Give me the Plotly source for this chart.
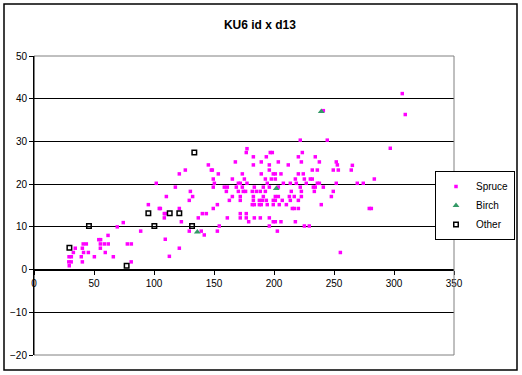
import plotly.graph_objects as go

# ---- data ----
spruce_x = [
    74.4, 69.4, 61.7, 54, 55.5, 41, 43.6, 55.3, 58.6, 61.9, 77.8, 81.1, 34.4, 40.3, 55.3,
    32.8, 41.3, 45.3, 59.4, 29.2, 31.1, 39.4, 50.3, 66.1, 29, 31, 40.3, 81, 29.4,
    177.5, 176.9, 167.8, 145.3, 147.8, 148.6, 126.1, 121.1, 153.6, 173.6, 149.4, 165.3, 175.3,
    101.9, 150.3, 170.3, 171.9, 177.5, 117.8, 149.4, 158.6, 161.1, 168.6, 173.6, 130.3, 160.3,
    170.3, 174.4, 176.3, 110.3, 132.2, 165.3, 171.9, 129.4, 162.8, 171.9, 95.3, 152.8, 149.4,
    104.4, 105.3, 121.1, 108.6, 109.4, 140.3, 143.6, 171.9, 176.9, 108.6, 136.9, 161.1, 171.9,
    176.9, 122.8, 178.9, 154.4, 88.9, 129.4, 139.4, 152.8, 141.9, 109.4, 121.1, 112.8,
    221.9, 244.4, 196.9, 198.6, 223.6, 182.8, 193.6, 220.3, 234.4, 189.4, 203.6, 222.8, 237.8,
    251.9, 182.8, 196.1, 211.9, 252.8, 196.1, 231.9, 236.1, 249.4, 253.6, 189.4, 199.4, 201.1,
    205.8, 220.3, 224.4, 192.8, 197.8, 201.1, 217.8, 225.3, 230.3, 231.9, 194.4, 207.8, 213.6,
    218.6, 226.9, 236.1, 237.8, 251.9, 183.6, 191.1, 196.1, 203.6, 221.9, 232.8, 234.4, 241.1,
    181.9, 185.3, 188.6, 192.8, 214.4, 222.8, 233.6, 249.4, 182.8, 191.1, 201.1, 203.6, 212.8,
    216.9, 222.8, 247.8, 182.8, 187.8, 190.3, 193.6, 199.4, 201.1, 206.9, 213.6, 220.3, 181.9,
    183.6, 187.8, 189.4, 194.4, 199.4, 204.4, 210.3, 239.4, 215.3, 216.9, 220.3, 183.6, 188.6,
    196.1, 199.4, 201.1, 205.8, 217.8, 196.1, 225.3, 229.4, 202.8, 255.3,
    306.9, 309.4, 296.9, 265.3, 264.4, 283.6, 269.4, 274.4, 279.4, 281.1, 241.1,
]
spruce_y = [
    11, 10, 8, 7, 7, 6, 6, 6, 6, 6, 6, 6, 5, 5, 5,
    4, 4, 4, 4, 3, 3, 3, 3, 3, 1.8, 1.8, 1.8, 1.8, 0.9,
    28.3, 27.4, 25.2, 24.5, 23.3, 23.3, 23.3, 22.4, 22.4, 22.4, 21.2, 21.2, 21.2,
    20.2, 20.2, 20.2, 20.2, 20.2, 19.3, 19.3, 19.3, 19.3, 19.3, 19.3, 18.3, 18.3,
    18.3, 18.3, 18.3, 17.1, 17.1, 17.1, 17.1, 16.2, 16.2, 16.2, 15.2, 15.2, 14.3,
    14.3, 14.3, 14.3, 13.1, 13.1, 13.1, 13.1, 13.1, 13.1, 12.1, 12.1, 12.1, 12.1,
    12.1, 11.2, 11.2, 10.2, 9.0, 9.0, 9.0, 9.0, 8.1, 7.1, 5.0, 3.1,
    30.3, 30.3, 27.4, 27.4, 27.4, 26.4, 26.4, 26.4, 26.4, 25.2, 25.2, 25.2, 25.2,
    25.2, 24.5, 24.5, 24.5, 24.5, 23.3, 23.3, 23.3, 23.3, 23.3, 22.4, 22.4, 22.4,
    22.4, 22.4, 22.4, 21.2, 21.2, 21.2, 21.2, 21.2, 21.2, 21.2, 20.2, 20.2, 20.2,
    20.2, 20.2, 20.2, 20.2, 20.2, 19.3, 19.3, 19.3, 19.3, 19.3, 19.3, 19.3, 19.3,
    18.3, 18.3, 18.3, 18.3, 18.3, 18.3, 18.3, 18.3, 17.1, 17.1, 17.1, 17.1, 17.1,
    17.1, 17.1, 17.1, 16.2, 16.2, 16.2, 16.2, 16.2, 16.2, 16.2, 16.2, 16.2, 15.2,
    15.2, 15.2, 15.2, 15.2, 15.2, 15.2, 15.2, 15.2, 14.3, 14.3, 14.3, 12.1, 12.1,
    12.1, 11.2, 11.2, 11.2, 11.2, 10.2, 10.2, 10.2, 9.0, 4.0,
    41.2, 36.3, 28.4, 24.4, 23.3, 21.2, 20.2, 20.2, 14.3, 14.3, 37.2,
]
birch_x = [136.1, 201.9, 239.4]
birch_y = [8.8, 19.0, 37.0]
other_x = [29.5, 45.8, 77.2, 95.3, 100.3, 113.1, 121.1, 131.7, 133.6]
other_y = [5.1, 10.2, 0.9, 13.2, 10.2, 13.2, 13.2, 10.2, 27.4]

x_ticks = [0, 50, 100, 150, 200, 250, 300, 350]
y_ticks = [-20, -10, 0, 10, 20, 30, 40, 50]

FONT = "Liberation Sans, Arial, sans-serif"

fig = go.Figure()
fig.add_trace(go.Scatter(x=spruce_x, y=spruce_y, mode="markers", name="Spruce",
                         marker=dict(symbol="square", size=3.5, color="#FF00FF", line=dict(width=0))))
fig.add_trace(go.Scatter(x=birch_x, y=birch_y, mode="markers", name="Birch",
                         marker=dict(symbol="triangle-up", size=6, color="#339966", line=dict(width=0))))
fig.add_trace(go.Scatter(x=other_x, y=other_y, mode="markers", name="Other",
                         marker=dict(symbol="square-open", size=4.5, color="black", line=dict(width=1.5, color="black"))))

y_lo, y_hi = y_ticks[0], y_ticks[-1]

fig.update_layout(
    template="none",
    width=522, height=375,
    margin=dict(l=34, r=68, t=56, b=20, pad=0, autoexpand=False),
    paper_bgcolor="white", plot_bgcolor="white",
    font=dict(family=FONT, size=10, color="black"),
    title=dict(text="<b>KU6 id x d13</b>", xref="container", x=0.498, xanchor="center",
               yref="container", y=1 - 25 / 375, yanchor="middle",
               font=dict(family=FONT, size=12, color="black")),
    showlegend=True,
    legend=dict(x=(515 - 34) / 420, xanchor="right", y=0.5, yanchor="middle",
                bordercolor="black", borderwidth=1, bgcolor="white",
                font=dict(family=FONT, size=10), itemwidth=30,
                tracegroupgap=0, itemsizing="trace"),
    xaxis=dict(range=[x_ticks[0], x_ticks[-1]], tickvals=x_ticks, showgrid=False, zeroline=False,
               showline=True, linecolor="black", linewidth=1, automargin=False,
               ticks="outside", ticklen=4, tickcolor="black",
               anchor="free", position=(0 - y_lo) / (y_hi - y_lo),
               tickfont=dict(family=FONT, size=10)),
    yaxis=dict(range=[y_lo, y_hi], tickvals=y_ticks, showgrid=True, gridcolor="black", gridwidth=1,
               zeroline=False, showline=True, linecolor="black", linewidth=1, automargin=False,
               ticks="outside", ticklen=4, tickcolor="black",
               tickfont=dict(family=FONT, size=10)),
    shapes=[
        dict(type="line", xref="x domain", yref="y domain", x0=0, x1=1, y0=1, y1=1,
             line=dict(color="#808080", width=1), layer="above"),
        dict(type="line", xref="x domain", yref="y domain", x0=0, x1=1, y0=0, y1=0,
             line=dict(color="#808080", width=1), layer="above"),
        dict(type="line", xref="x domain", yref="y domain", x0=1, x1=1, y0=0, y1=1,
             line=dict(color="#808080", width=1), layer="above"),
        dict(type="line", xref="x domain", yref="y domain", x0=0, x1=0, y0=0, y1=1,
             line=dict(color="black", width=1), layer="above"),
        dict(type="rect", xref="paper", yref="paper",
             x0=(4 - 34) / 420, x1=(517 - 34) / 420, y0=(355 - 370) / 299, y1=(355 - 4) / 299,
             line=dict(color="black", width=1.5), fillcolor="rgba(0,0,0,0)", layer="above"),
    ],
)

fig.write_html("out.html", config={"displayModeBar": False},
               post_script="document.body.style.margin='0';document.body.style.overflow='hidden';")
